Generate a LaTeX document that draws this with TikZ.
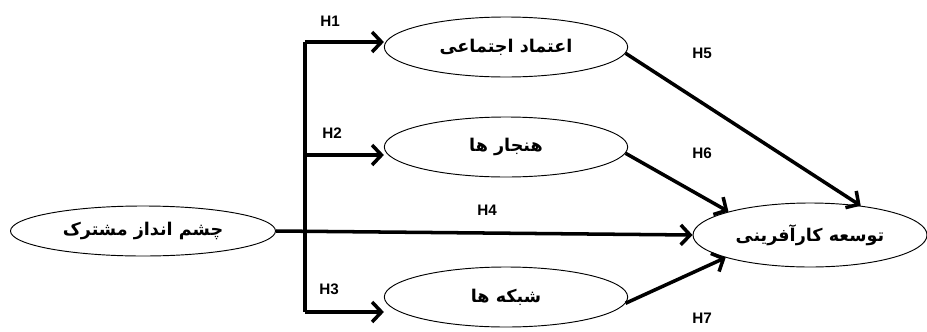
\documentclass[tikz,border=0pt]{standalone}
\usepackage{fontspec}
\usepackage{tikz}
\usetikzlibrary{arrows.meta,shapes.geometric}
\TeXXeTstate=1
\setmainfont{Liberation Sans}
\newfontfamily\arabicfont[Script=Arabic]{DejaVu Sans}

\begin{document}
\begin{tikzpicture}[x=0.03cm,y=-0.03cm,
  oval/.style={ellipse,draw,line width=0.8pt,inner sep=0pt,
    font=\arabicfont\bfseries\fontsize{15}{17}\selectfont},
  link/.style={line width=3pt},
  arr/.style={link,-{Straight Barb[length=8pt,width=17pt]}},
  hyp/.style={font=\bfseries\fontsize{13}{15}\selectfont}]
\def\mw{7.3cm}
\def\mh{1.8cm}
\useasboundingbox (0,0) rectangle (927,331);
  \node[oval,minimum width=7.95cm,minimum height=1.5cm] (vision) at (143,231) {\beginR چشم انداز مشترک\endR};
  \node[oval,minimum width=\mw,minimum height=\mh] (trust) at (506,47) {\beginR اعتماد اجتماعی\endR};
  \node[oval,minimum width=\mw,minimum height=\mh] (norms) at (506,147) {\beginR هنجار ها\endR};
  \node[oval,minimum width=\mw,minimum height=\mh] (net) at (506,297) {\beginR شبکه ها\endR};
  \node[oval,minimum width=7.02cm,minimum height=1.92cm] (dev) at (810,235) {\beginR توسعه کارآفرینی\endR};

  \coordinate (tTop) at (305,42);
  \coordinate (tMid) at (305,155);
  \coordinate (tBot) at (305,312);
  \draw[link] (tTop) -- (tBot);
  \draw[arr] (tTop) -- (trust.west |- tTop);
  \draw[arr] (tMid) -- (norms.west |- tMid);
  \draw[arr] (tBot) -- (net.west |- tBot);
  \draw[arr] (vision.east) -- (dev.west);
  \foreach \s/\e in {trust/30, norms/164, net/195}
    \draw[arr] (\s.-3) -- (dev.\e);

  \node[hyp] (h1) at (330,21) {H1};
  \node[hyp] (h2) at (332,133) {H2};
  \node[hyp] (h3) at (329,289) {H3};
  \node[hyp] (h4) at (487,210) {H4};
  \node[hyp] (h5) at (702,53) {H5};
  \node[hyp] (h6) at (702,153) {H6};
  \node[hyp] (h7) at (702,318) {H7};
\end{tikzpicture}
\end{document}
